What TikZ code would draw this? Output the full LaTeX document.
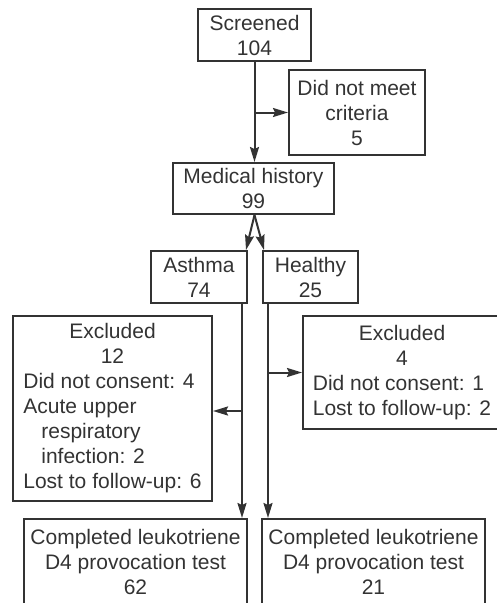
\documentclass[tikz,border=0pt]{standalone}
\usepackage{fontspec}
\setmainfont{Liberation Sans}
\usetikzlibrary{arrows.meta}
\definecolor{ink}{gray}{0.2}
\begin{document}
\begin{tikzpicture}[x=1pt,y=-1pt,
  box/.style={draw=ink, line width=2pt, text=ink, font=\fontsize{21}{25}\selectfont,
    align=center, inner sep=0pt},
  arr/.style={draw=ink, line width=2pt, -{Stealth[length=15pt,width=9pt,inset=2pt]}}]
\useasboundingbox (0,0) rectangle (496,603);
\node[box, minimum width=113pt, minimum height=52pt] (scr) at (254.5,35) {Screened\\104};
\node[box, minimum width=136pt, minimum height=85pt] (dnm) at (357,112.5) {Did not meet\\criteria\\5};
\node[box, minimum width=161pt, minimum height=51pt] (med) at (253.5,188.5) {Medical history\\99};
\node[box, minimum width=96pt, minimum height=52pt] (asth) at (199,277) {Asthma\\74};
\node[box, minimum width=95pt, minimum height=52pt] (hea) at (310.5,277) {Healthy\\25};
\node[box, minimum width=199pt, minimum height=185pt] (exL) at (112.5,408.5)
  {\begin{tabular}{@{}l@{}}\multicolumn{1}{@{}c@{}}{Excluded}\\\multicolumn{1}{@{}c@{}}{12}\\
   Did not consent: 4\\Acute upper\\\hspace{18pt}respiratory\\\hspace{18pt}infection: 2\\Lost to follow-up: 6\end{tabular}};
\node[box, minimum width=198pt, minimum height=113pt] (exR) at (402,372.5)
  {\begin{tabular}{@{}l@{}}\multicolumn{1}{@{}c@{}}{Excluded}\\\multicolumn{1}{@{}c@{}}{4}\\
   Did not consent: 1\\Lost to follow-up: 2\end{tabular}};
\node[box, minimum width=223pt, minimum height=86pt] (cL) at (135.5,562) {Completed leukotriene\\D4 provocation test\\62};
\node[box, minimum width=223pt, minimum height=86pt] (cR) at (373.5,562) {Completed leukotriene\\D4 provocation test\\21};
% connectors
\draw[arr] (scr.south) -- (scr.south |- med.north);
\coordinate (b1) at (scr.south |- dnm.west);
\draw[arr] (b1) -- (dnm.west);
\coordinate (mb) at (scr.south |- med.south);
\draw[arr] (mb) -- ([xshift=-2pt]asth.north east);
\draw[arr] (mb) -- ([xshift=2pt]hea.north west);
\coordinate (a1) at ([xshift=-6pt]asth.south east);
\draw[arr] (a1) -- (a1 |- cL.north);
\coordinate (ya) at (0,411);
\coordinate (a2) at (a1 |- ya);
\draw[arr] (a2) -- (a2 -| exL.east);
\coordinate (h1) at ([xshift=6pt]hea.south west);
\draw[arr] (h1) -- (h1 |- cR.north);
\coordinate (h2) at (h1 |- exR.west);
\draw[arr] (h2) -- (exR.west);
\end{tikzpicture}
\end{document}
